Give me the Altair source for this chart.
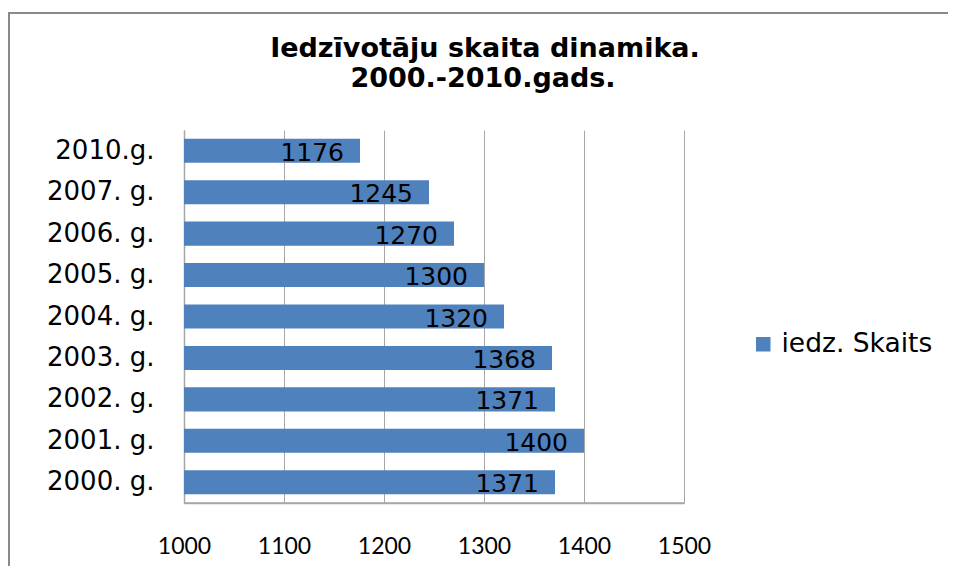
import altair as alt
import pandas as pd

years = ["2010.g.", "2007. g.", "2006. g.", "2005. g.", "2004. g.",
         "2003. g.", "2002. g.", "2001. g.", "2000. g."]
values = [1176, 1245, 1270, 1300, 1320, 1368, 1371, 1400, 1371]
series = "iedz. Skaits"
x_ticks = [1000, 1100, 1200, 1300, 1400, 1500]
title_lines = ["Iedzīvotāju skaita dinamika.", "2000.-2010.gads."]

df = pd.DataFrame({"year": years, "value": values, "series": [series] * len(years)})

GRID = "#a6a6a6"
BAR = "#4F81BD"

x_enc = alt.X("value:Q",
              scale=alt.Scale(domain=[x_ticks[0], x_ticks[-1]], nice=False, zero=False),
              axis=alt.Axis(values=x_ticks, title=None, grid=True, gridColor=GRID,
                            domain=True, domainColor=GRID, domainWidth=1.5, ticks=False,
                            labelFont="Lato", labelFontSize=23, labelColor="black",
                            labelPadding=32, labelFlush=False, format="d"))
y_enc = alt.Y("year:N", sort=years,
              scale=alt.Scale(paddingInner=0.42, paddingOuter=0.21),
              axis=alt.Axis(title=None, ticks=False, domainColor=GRID, domainWidth=1.5,
                            grid=False, labelFont="DejaVu Sans", labelFontSize=26,
                            labelColor="black", labelPadding=30))

bars = alt.Chart(df).mark_bar(color=BAR, clip=True).encode(
    x=x_enc, y=y_enc,
    color=alt.Color("series:N", scale=alt.Scale(range=[BAR]),
                    legend=alt.Legend(title=None, orient="none", legendX=566,
                                      legendY=201, symbolType="square",
                                      symbolSize=210, symbolStrokeWidth=0,
                                      labelFont="DejaVu Sans", labelFontSize=26.5,
                                      labelColor="black", labelOffset=5,
                                      padding=0)),
)

labels = alt.Chart(df).mark_text(align="right", baseline="middle", dx=-16, dy=2,
                                 font="DejaVu Sans", fontSize=25, color="black").encode(
    x=alt.X("value:Q"), y=alt.Y("year:N", sort=years), text="value:Q")

bottom_line = alt.Chart(alt.Data(values=[{"a": 1}])).mark_rule(
    color=GRID, strokeWidth=1.5).encode(
    x=alt.datum(x_ticks[0]), x2=alt.datum(x_ticks[-1]), y=alt.value(373))

title_1 = alt.Chart(alt.Data(values=[{"t": title_lines[0]}])).mark_text(
    font="DejaVu Sans", fontSize=27, fontWeight="bold", color="black",
    align="center", baseline="alphabetic").encode(
    text="t:N", x=alt.value(301), y=alt.value(-73))
title_2 = alt.Chart(alt.Data(values=[{"t": title_lines[1]}])).mark_text(
    font="DejaVu Sans", fontSize=27, fontWeight="bold", color="black",
    align="center", baseline="alphabetic").encode(
    text="t:N", x=alt.value(299), y=alt.value(-43))

frame_data = alt.Data(values=[{"a": 1}])
left_border = alt.Chart(frame_data).mark_rule(color="#8a8a8a", strokeWidth=2).encode(
    x=alt.value(-175), y=alt.value(-118), y2=alt.value(436))
top_border = alt.Chart(frame_data).mark_rule(color="#8a8a8a", strokeWidth=2).encode(
    x=alt.value(-175), x2=alt.value(780), y=alt.value(-117), y2=alt.value(-117))

chart = alt.layer(bars, labels, bottom_line, title_1, title_2,
                  left_border, top_border).properties(
    width=500, height=373,
    autosize=alt.AutoSizeParams(type="none"),
    padding={"left": 176, "top": 122, "right": 264, "bottom": 71},
).configure_view(stroke=None)

chart.save("out.html", embed_options={"renderer": "svg", "actions": False})
